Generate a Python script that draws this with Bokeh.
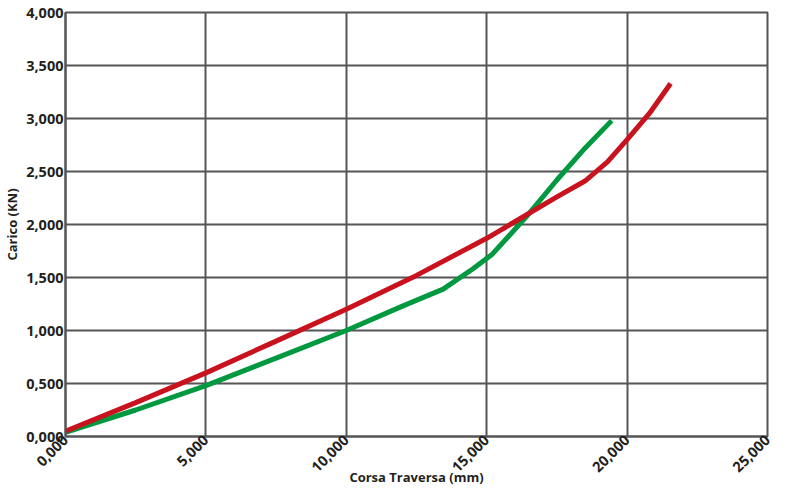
import math
from bokeh.plotting import figure
from bokeh.models import Range1d, FixedTicker
from bokeh.embed import file_html
from bokeh.resources import INLINE

# data
green_x = [0, 2500, 5000, 7500, 10000, 12000, 13450, 14500, 15200, 16400, 17500, 18500, 19450]
green_y = [40, 250, 480, 740, 1000, 1230, 1390, 1580, 1720, 2070, 2420, 2720, 2980]
red_x = [0, 2500, 5000, 7500, 10000, 12500, 15000, 17500, 18500, 19300, 20000, 20800, 21550]
red_y = [50, 320, 600, 900, 1200, 1520, 1870, 2260, 2410, 2590, 2800, 3050, 3330]

x_ticks = [0, 5000, 10000, 15000, 20000, 25000]
x_labels = ["0,000", "5,000", "10,000", "15,000", "20,000", "25,000"]
y_ticks = [0, 500, 1000, 1500, 2000, 2500, 3000, 3500, 4000]
y_labels = ["0,000", "0,500", "1,000", "1,500", "2,000", "2,500", "3,000", "3,500", "4,000"]
x_title = "Corsa Traversa (mm)"
y_title = "Carico (KN)"

FONT = "Open Sans"
GRID = "#555555"
TXT = "#231f20"

p = figure(width=777, height=488, output_backend="svg", toolbar_location=None,
           x_range=Range1d(0, 25000), y_range=Range1d(0, 4000),
           min_border_left=0, min_border_top=12, min_border_right=10, min_border_bottom=0)

p.line(green_x, green_y, line_color="#00993f", line_width=5)
p.line(red_x, red_y, line_color="#c8131f", line_width=5)

p.xaxis.ticker = FixedTicker(ticks=x_ticks)
p.yaxis.ticker = FixedTicker(ticks=y_ticks)
p.xaxis.major_label_overrides = {t: l for t, l in zip(x_ticks, x_labels)}
p.yaxis.major_label_overrides = {t: l for t, l in zip(y_ticks, y_labels)}
p.xaxis.major_label_orientation = math.pi / 4

for ax in (p.xaxis, p.yaxis):
    ax.axis_line_color = GRID
    ax.axis_line_width = 2
    ax.major_tick_line_color = None
    ax.minor_tick_line_color = None
    ax.major_tick_out = 0
    ax.major_tick_in = 0
    ax.major_label_text_font = FONT
    ax.major_label_text_font_style = "bold"
    ax.major_label_text_font_size = "14.5px"
    ax.major_label_text_color = TXT
    ax.axis_label_text_font = FONT
    ax.axis_label_text_font_style = "bold"
    ax.axis_label_text_font_size = "13px"
    ax.axis_label_text_color = TXT

p.xaxis.axis_label = x_title
p.yaxis.axis_label = y_title
p.xaxis.major_label_standoff = 1
p.yaxis.major_label_standoff = 2
p.xaxis.axis_label_standoff = -12
p.yaxis.axis_label_standoff = 2

p.grid.grid_line_color = GRID
p.grid.grid_line_width = 2
p.outline_line_color = GRID
p.outline_line_width = 2
p.background_fill_color = "white"
p.border_fill_color = "white"

open("out.html", "w").write(file_html(p, INLINE))
